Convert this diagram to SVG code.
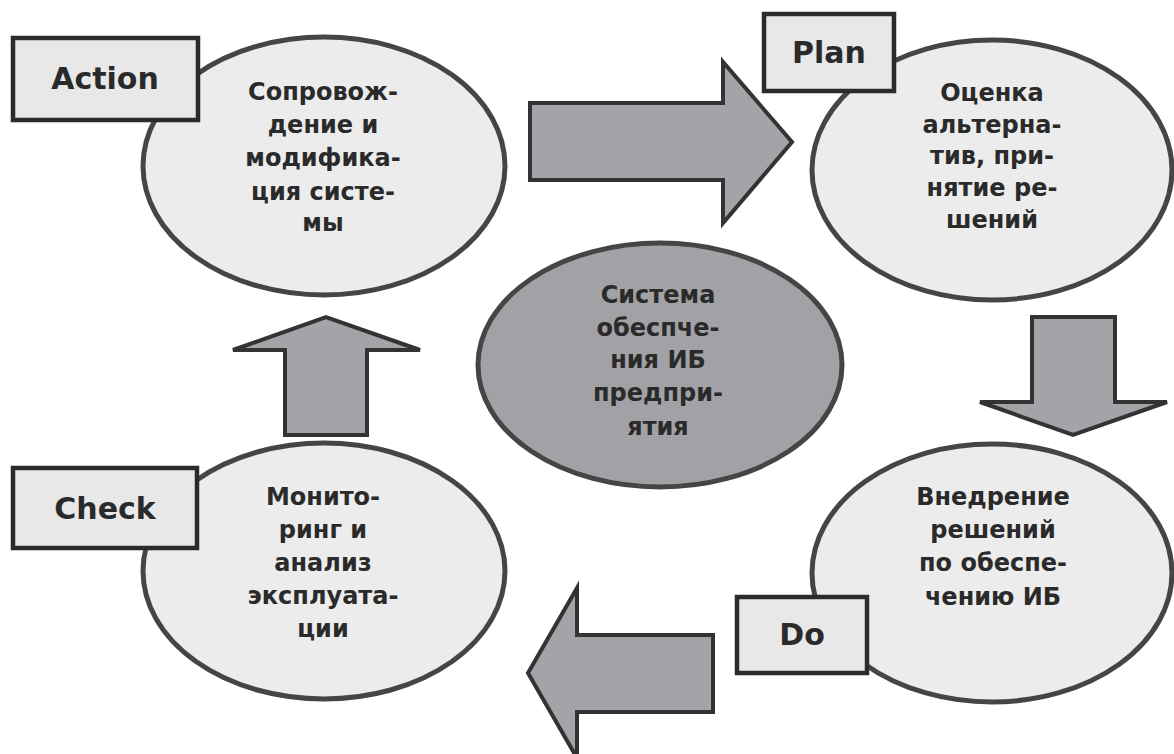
<svg xmlns="http://www.w3.org/2000/svg" width="1174" height="754" viewBox="0 0 1174 754">
<style>
.ell{fill:#ececec;stroke:#454545;stroke-width:5}
.core{fill:#a2a2a6;stroke:#454545;stroke-width:5}
.box{fill:#e8e8e8;stroke:#2b2b2b;stroke-width:4.5}
.arr{fill:#a4a4a8;stroke:#333;stroke-width:4;stroke-linejoin:miter}
.t{font-family:"DejaVu Sans",Verdana,sans-serif;font-weight:bold;font-size:24px;fill:#2a2a2a;text-anchor:middle}
.lb{font-family:"DejaVu Sans",Verdana,sans-serif;font-weight:bold;font-size:30px;fill:#2a2a2a;text-anchor:middle}
</style>
<rect width="1174" height="754" fill="#ffffff"/>
<g id="connectors">
<path class="arr" d="M530,103 H723 V62 L792,142 L723,223 V180 H530 Z"/>
<path class="arr" d="M1032,317 H1115 V402 H1167 L1073,435 L980,402 H1032 Z"/>
<path class="arr" d="M713,635 V712 H577 V758 L528,673 L577,588 V635 Z"/>
<path class="arr" d="M285,435 V350 H233 L326,317 L420,350 H367 V435 Z"/>
</g>
<g id="center">
<ellipse class="core" cx="660" cy="365" rx="182" ry="122"/>
<text class="t"><tspan x="658" y="303">Система</tspan><tspan x="658" y="336">обеспче-</tspan><tspan x="658" y="368">ния ИБ</tspan><tspan x="658" y="401">предпри-</tspan><tspan x="658" y="435">ятия</tspan></text>
</g>
<g id="action">
<ellipse class="ell" cx="324" cy="166" rx="181" ry="129"/>
<text class="t"><tspan x="323" y="100">Сопровож-</tspan><tspan x="323" y="133">дение и</tspan><tspan x="323" y="166">модифика-</tspan><tspan x="323" y="200">ция систе-</tspan><tspan x="323" y="231">мы</tspan></text>
<rect class="box" x="13" y="38" width="185" height="82"/>
<text class="lb" x="105" y="89">Action</text>
</g>
<g id="plan">
<ellipse class="ell" cx="992" cy="170" rx="180" ry="130"/>
<text class="t"><tspan x="992" y="101">Оценка</tspan><tspan x="992" y="133">альтерна-</tspan><tspan x="992" y="164">тив, при-</tspan><tspan x="992" y="196">нятие ре-</tspan><tspan x="992" y="228">шений</tspan></text>
<rect class="box" x="764" y="14" width="130" height="77"/>
<text class="lb" x="829" y="63">Plan</text>
</g>
<g id="do">
<ellipse class="ell" cx="992" cy="573" rx="180" ry="129"/>
<text class="t"><tspan x="993" y="505">Внедрение</tspan><tspan x="993" y="538">решений</tspan><tspan x="993" y="571">по обеспе-</tspan><tspan x="993" y="605">чению ИБ</tspan></text>
<rect class="box" x="737" y="597" width="130" height="76"/>
<text class="lb" x="802" y="645">Do</text>
</g>
<g id="check">
<ellipse class="ell" cx="324" cy="571" rx="181" ry="128"/>
<text class="t"><tspan x="323" y="505">Монито-</tspan><tspan x="323" y="538">ринг и</tspan><tspan x="323" y="571">анализ</tspan><tspan x="323" y="604">эксплуата-</tspan><tspan x="323" y="637">ции</tspan></text>
<rect class="box" x="13" y="468" width="184" height="80"/>
<text class="lb" x="105" y="519">Check</text>
</g>
</svg>
